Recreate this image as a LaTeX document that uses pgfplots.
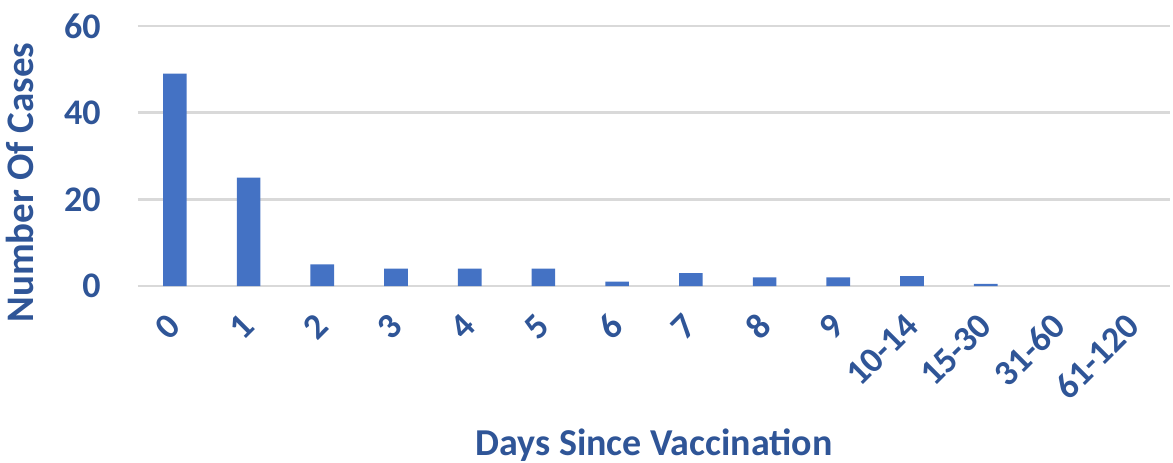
\documentclass[border=0pt]{standalone}
\usepackage{fontspec}
\setmainfont{Carlito}
\usepackage{pgfplots}
\pgfplotsset{compat=1.18}
\definecolor{barblue}{HTML}{4472C4}
\definecolor{txtblue}{HTML}{2F5597}
\definecolor{gridgray}{HTML}{D9D9D9}
\begin{document}
\begin{tikzpicture}
\begin{axis}[
  at={(0,0)}, anchor=south west,
  scale only axis, width=516pt, height=130pt,
  xmin=-0.5, xmax=13.5, ymin=0, ymax=60,
  ytick={0,20,40,60},
  xtick={0,...,13},
  xticklabels={0,1,2,3,4,5,6,7,8,9,10-14,15-30,31-60,61-120},
  /pgf/number format/assume math mode=true,
  axis line style={draw=none},
  major tick length=0pt,
  ymajorgrids, grid style={gridgray, line width=1.3pt},
  ybar, bar width=0.32,
  tick label style={font=\fontsize{18}{20}\selectfont\bfseries, text=txtblue},
  yticklabel style={anchor=east, inner sep=0pt, xshift=-18.5pt},
  xticklabel style={yshift=-17pt, rotate=45, anchor=east, inner sep=0pt},
  ylabel={Number Of Cases},
  ylabel style={at={(axis description cs:-0.1017,0.398)}, anchor=base, rotate=0, font=\fontsize{19.5}{22}\selectfont\bfseries, text=txtblue},
  xlabel={Days Since Vaccination},
  xlabel style={at={(axis description cs:0.5,-0.65)}, anchor=base, font=\fontsize{19}{22}\selectfont\bfseries, text=txtblue},
]
% 31-60 and 61-120 have 0 cases (no visible bar)
\addplot[fill=barblue, draw=none] coordinates {
(0,49) (1,25) (2,5) (3,4) (4,4) (5,4) (6,1) (7,3) (8,2) (9,2) (10,2.3) (11,0.5)
};
\end{axis}
\pgfresetboundingbox
\path[use as bounding box] (-69pt,-88pt) rectangle (517.5pt,143pt);
\end{tikzpicture}
\end{document}
